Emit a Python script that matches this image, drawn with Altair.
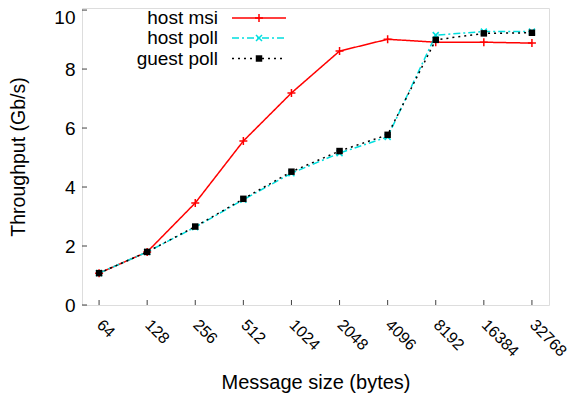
import altair as alt
import pandas as pd

sizes = ["64", "128", "256", "512", "1024", "2048", "4096", "8192", "16384", "32768"]
host_msi = [1.08, 1.80, 3.46, 5.56, 7.19, 8.61, 9.01, 8.91, 8.91, 8.88]
host_poll = [1.08, 1.80, 2.64, 3.57, 4.47, 5.15, 5.70, 9.15, 9.27, 9.27]
guest_poll = [1.08, 1.80, 2.66, 3.60, 4.52, 5.22, 5.77, 8.99, 9.21, 9.23]
series_names = ["host msi", "host poll", "guest poll"]
y_ticks = [0, 2, 4, 6, 8, 10]

FONT = "Liberation Sans"
W, H = 467, 297

rows = []
for name, vals in zip(series_names, [host_msi, host_poll, guest_poll]):
    for s, v in zip(sizes, vals):
        rows.append({"size": s, "value": v, "series": name})
df = pd.DataFrame(rows)

styles = {
    "host msi": dict(color="#ff0000", dash=[1, 0], shape="M-1,0L1,0M0,-1L0,1", filled=False, size=64),
    "host poll": dict(color="#00dede", dash=[7, 3, 2, 3], shape="M-1,-1L1,1M-1,1L1,-1", filled=False, size=36),
    "guest poll": dict(color="#000000", dash=[2, 4], shape="square", filled=True, size=42),
}

xenc = alt.X("size:O", sort=sizes,
             scale=alt.Scale(type="point", padding=0.355),
             axis=alt.Axis(title="Message size (bytes)", labelAngle=45, labelAlign="left",
                           labelBaseline="middle", labelPadding=17, labelOffset=0, ticks=False,
                           domain=False, labelFont=FONT, labelFontSize=16, titleFont=FONT,
                           titleFontSize=20, titleFontWeight="normal", titlePadding=13,
                           titleColor="black", labelColor="black"))
yenc = alt.Y("value:Q", scale=alt.Scale(domain=[0, 10.07], nice=False, zero=True),
             axis=alt.Axis(title="Throughput (Gb/s)", values=y_ticks, ticks=False, domain=False,
                           grid=False, labelPadding=7, labelFont=FONT, labelFontSize=19,
                           labelOffset={"condition": {"test": "datum.value == 10", "value": 7}, "value": 0},
                           titleFont=FONT, titleFontSize=19.5, titleFontWeight="normal",
                           titlePadding=25, titleColor="black", labelColor="black"))

layers = []
for name in series_names:
    st = styles[name]
    sub = df[df.series == name]
    base = alt.Chart(sub)
    layers.append(base.mark_line(color=st["color"], strokeDash=st["dash"], strokeWidth=1.5).encode(x=xenc, y=yenc))
    layers.append(base.mark_point(shape=st["shape"], filled=st["filled"], color=st["color"],
                                  size=st["size"], strokeWidth=1.5, opacity=1).encode(x=xenc, y=yenc))

# inward ticks
tick_df = pd.DataFrame({"size": sizes})
layers.append(alt.Chart(tick_df).mark_rule(color="#404040", strokeWidth=1).encode(
    x=alt.X("size:O", sort=sizes), y=alt.value(H), y2=alt.value(H - 5)))
ytick_df = pd.DataFrame({"value": y_ticks})
layers.append(alt.Chart(ytick_df).mark_rule(color="#404040", strokeWidth=1).encode(
    y=alt.Y("value:Q"), x=alt.value(0), x2=alt.value(5)))

# legend (gnuplot style: text on the left, sample on the right)
leg_y = [10, 30, 50.5]
for name, ly in zip(series_names, leg_y):
    st = styles[name]
    ldf = pd.DataFrame({"t": [name]})
    lc = alt.Chart(ldf)
    layers.append(lc.mark_text(align="right", baseline="middle", font=FONT, fontSize=19, color="black").encode(
        text="t:N", x=alt.value(136), y=alt.value(ly)))
    layers.append(lc.mark_rule(color=st["color"], strokeDash=st["dash"], strokeWidth=1.5).encode(
        x=alt.value(150), x2=alt.value(204), y=alt.value(ly)))
    layers.append(lc.mark_point(shape=st["shape"], filled=st["filled"], color=st["color"],
                                size=st["size"], strokeWidth=1.5, opacity=1).encode(
        x=alt.value(177), y=alt.value(ly)))

chart = alt.layer(*layers).properties(
    width=W, height=H,
    autosize=alt.AutoSizeParams(type="none"),
    padding={"left": 74, "top": 0, "right": 22, "bottom": 89},
).configure_view(stroke="#404040", strokeWidth=1.5).configure(background="white")

chart.save("out.html", embed_options={"renderer": "svg", "actions": False})
